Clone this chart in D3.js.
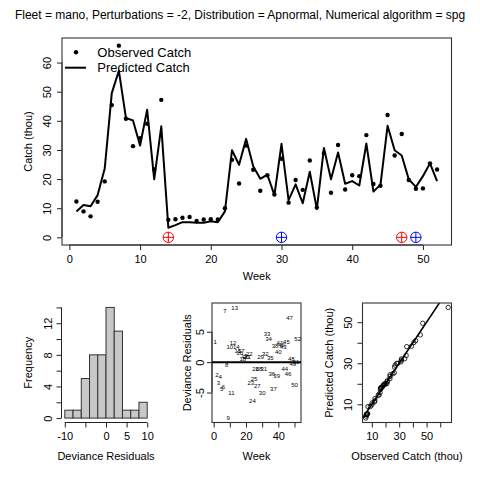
<!DOCTYPE html>
<html>
<head>
<meta charset="utf-8">
<script src="https://cdn.jsdelivr.net/npm/d3@7"></script>
<style>
  body { margin: 0; background: #fff; }
  text { font-family: "Liberation Sans", Arial, Helvetica, sans-serif; fill: #000; }
</style>
</head>
<body>
<svg width="480" height="480"></svg>
<script>
// weeks of the season
const weeks = [1,2,3,4,5,6,7,8,9,10,11,12,13,14,15,16,17,18,19,20,21,22,23,24,25,26,
               27,28,29,30,31,32,33,34,35,36,37,38,39,40,41,42,43,44,45,46,47,48,49,50,51,52];

// observed catch (thou), read from the points
const observed = [12.3,8.9,7.2,12.2,19.2,45.4,65.8,40.7,31.3,34.0,39.0,23.3,47.2,6.0,6.2,6.7,7.0,5.6,6.1,6.2,6.1,10.0,
                  26.6,18.5,31.5,23.2,16.0,21.3,14.7,27.0,11.9,19.7,16.3,26.4,10.2,28.9,15.3,31.7,16.4,21.3,21.0,35.1,
                  18.3,17.7,42.0,28.1,35.5,19.7,16.7,16.8,25.4,23.3];

// predicted catch (thou)
const predicted = [8.9,11.1,10.7,14.5,23.6,49.5,57.2,41.0,40.1,31.5,43.8,19.9,38.1,3.3,4.2,5.2,5.2,5.0,5.0,5.5,5.2,8.9,
                   29.9,24.9,33.8,24.4,20.1,21.5,14.5,32.1,12.8,18.2,11.7,22.5,9.7,30.7,19.9,29.1,18.4,19.3,17.8,32.2,
                   15.7,18.1,38.3,29.9,28.1,19.9,17.3,21.0,25.4,19.3];

// deviance residuals
const residuals = [3.3,-2.1,-3.4,-2.5,-4.4,-4.1,8.5,-0.4,-9.2,2.5,-5.0,3.2,9.0,2.5,1.9,1.6,1.9,0.6,1.0,0.8,0.9,1.4,
                   -3.4,-6.4,-2.7,-1.1,-3.9,-1.1,0.9,-5.0,-1.1,1.4,4.6,3.8,0.7,-1.9,-4.4,2.6,-2.2,1.7,3.2,2.9,
                   2.5,-1.1,3.4,-1.9,7.3,0.6,-0.3,-3.7,0.1,3.9];

// perturbation markers on the time axis
const redWeeks = [14, 47];
const blueWeeks = [30, 49];

const histBreaks = [-10,-8,-6,-4,-2,0,2,4,6,8,10];

const title = "Fleet = mano, Perturbations = -2, Distribution = Apnormal, Numerical algorithm = spg";

const svg = d3.select("svg");
svg.append("rect").attr("width", 480).attr("height", 480).attr("fill", "#fff");

// R style 4% axis extension
function rExt(lo, hi) {
    const d = (hi - lo) * 0.04;
    return [lo - d, hi + d];
}

// draw an R-like axis: ticks, line between first and last tick, selected labels
function rAxis(g, scale, side, ticks, labels, off) {
    const ax = (side === "bottom" ? d3.axisBottom(scale) : d3.axisLeft(scale))
        .tickValues(ticks)
        .tickSize(5)
        .tickFormat(d => labels.includes(d) ? String(d).replace("-", "\u2212").replace("\u2212", "-") : "");
    g.call(ax);
    g.select(".domain").remove();
    g.selectAll(".tick line").attr("stroke", "#222");
    const a = scale(ticks[0]), b = scale(ticks[ticks.length - 1]);
    if (side === "bottom") {
        g.append("line").attr("x1", a).attr("x2", b).attr("stroke", "#222");
        g.selectAll(".tick text").attr("y", off).attr("dy", "0.35em")
            .style("font-size", "11px").attr("fill", "#000");
    } else {
        g.append("line").attr("y1", a).attr("y2", b).attr("stroke", "#222");
        g.selectAll(".tick text").attr("x", null).attr("dy", "0.35em")
            .attr("transform", `translate(${-off},0) rotate(-90)`)
            .attr("text-anchor", "middle")
            .style("font-size", "11px").attr("fill", "#000");
    }
    g.attr("font-family", null).attr("font-size", null);
}

function box(x0, x1, y0, y1) {
    svg.append("rect").attr("x", x0).attr("y", y0)
        .attr("width", x1 - x0).attr("height", y1 - y0)
        .attr("fill", "none").attr("stroke", "#333").attr("stroke-width", 1.1);
}

function xTitle(txt, cx, y) {
    svg.append("text").attr("x", cx).attr("y", y).attr("text-anchor", "middle")
        .style("font-size", "11px").text(txt);
}
function yTitle(txt, x, cy) {
    svg.append("text").attr("transform", `translate(${x},${cy}) rotate(-90)`)
        .attr("text-anchor", "middle").attr("dy", "0.35em")
        .style("font-size", "11px").text(txt);
}

// ---------- title ----------
svg.append("text").attr("x", 240).attr("y", 19).attr("text-anchor", "middle")
    .style("font-size", "12px").text(title);

// ---------- top panel: catch time series ----------
const T = { l: 62, r: 451.5, t: 38, b: 245 };
const xT = d3.scaleLinear().domain(rExt(d3.min(weeks), d3.max(weeks))).range([T.l, T.r]);
const yT = d3.scaleLinear().domain(rExt(0, d3.max(observed.concat(predicted)))).range([T.b, T.t]);

rAxis(svg.append("g").attr("transform", `translate(0,${T.b})`), xT, "bottom",
      [0,10,20,30,40,50], [0,10,20,30,40,50], 14);
rAxis(svg.append("g").attr("transform", `translate(${T.l},0)`), yT, "left",
      [0,10,20,30,40,50,60], [0,10,20,30,40,50,60], 15.3);
box(T.l, T.r, T.t, T.b);
xTitle("Week", (T.l + T.r) / 2, 280);
yTitle("Catch (thou)", 28, (T.t + T.b) / 2);

const line = d3.line().x((d, i) => xT(weeks[i])).y(d => yT(d));
svg.append("path").datum(predicted).attr("d", line)
    .attr("fill", "none").attr("stroke", "#000").attr("stroke-width", 2)
    .attr("stroke-linejoin", "round");

svg.append("g").selectAll("circle").data(observed).join("circle")
    .attr("cx", (d, i) => xT(weeks[i])).attr("cy", d => yT(d))
    .attr("r", 2.2).attr("fill", "#000");

function crossCircle(wk, col) {
    const g = svg.append("g").selectAll("g").data(wk).join("g")
        .attr("transform", d => `translate(${xT(d)},${yT(0)})`);
    const r = 5.2;
    g.append("circle").attr("r", r).attr("fill", "none").attr("stroke", col).attr("stroke-width", 1);
    g.append("line").attr("x1", -r).attr("x2", r).attr("stroke", col).attr("stroke-width", 1);
    g.append("line").attr("y1", -r).attr("y2", r).attr("stroke", col).attr("stroke-width", 1);
}
crossCircle(redWeeks, "#ff0000");
crossCircle(blueWeeks, "#0000ff");

// legend
svg.append("circle").attr("cx", 76).attr("cy", 52.3).attr("r", 2.2).attr("fill", "#000");
svg.append("line").attr("x1", 65).attr("x2", 86).attr("y1", 67.7).attr("y2", 67.7)
    .attr("stroke", "#000").attr("stroke-width", 2);
svg.append("text").attr("x", 97.3).attr("y", 57).style("font-size", "13px").text("Observed Catch");
svg.append("text").attr("x", 97.3).attr("y", 72).style("font-size", "13px").text("Predicted Catch");

// ---------- bottom panels ----------
const B = { t: 303, b: 422.5 };

// histogram of deviance residuals
const H = { l: 61.5, r: 150.5 };
const bins = d3.bin().domain([-10, 10]).thresholds(histBreaks.slice(1, -1))(residuals);
const xH = d3.scaleLinear().domain(rExt(-10, 10)).range([H.l, H.r]);
const yH = d3.scaleLinear().domain(rExt(0, 14)).range([B.b, B.t]);
svg.append("g").selectAll("rect").data(bins).join("rect")
    .attr("x", d => xH(d.x0)).attr("width", d => xH(d.x1) - xH(d.x0))
    .attr("y", d => yH(d.length)).attr("height", d => yH(0) - yH(d.length))
    .attr("fill", "#c8c8c8").attr("stroke", "#333").attr("stroke-width", 1);
rAxis(svg.append("g").attr("transform", `translate(0,${B.b})`), xH, "bottom",
      [-10,-5,0,5,10], [-10,0,5,10], 14);
rAxis(svg.append("g").attr("transform", `translate(${H.l},0)`), yH, "left",
      [0,2,4,6,8,10,12,14], [0,4,8,12], 13);
xTitle("Deviance Residuals", (H.l + H.r) / 2, 459.5);
yTitle("Frequency", 28.3, (B.t + B.b) / 2);

// residuals by week, drawn as week numbers
const R = { l: 212, r: 301 };
const xR = d3.scaleLinear().domain(rExt(d3.min(weeks), d3.max(weeks))).range([R.l, R.r]);
const yR = d3.scaleLinear().domain(rExt(d3.min(residuals), d3.max(residuals))).range([B.b, B.t]);
rAxis(svg.append("g").attr("transform", `translate(0,${B.b})`), xR, "bottom",
      [0,10,20,30,40,50], [0,20,40], 14);
rAxis(svg.append("g").attr("transform", `translate(${R.l},0)`), yR, "left",
      [-5,0,5], [-5,0,5], 12);
box(R.l, R.r, B.t, B.b);
svg.append("line").attr("x1", R.l).attr("x2", R.r).attr("y1", yR(0)).attr("y2", yR(0))
    .attr("stroke", "#000").attr("stroke-width", 2);
svg.append("g").selectAll("text").data(residuals).join("text")
    .attr("x", (d, i) => xR(weeks[i])).attr("y", d => yR(d))
    .attr("dy", "0.35em").attr("text-anchor", "middle")
    .style("font-size", "6px").attr("fill", "#333")
    .text((d, i) => weeks[i]);
xTitle("Week", (R.l + R.r) / 2, 459.5);
yTitle("Deviance Residuals", 186.7, (B.t + B.b) / 2);

// quantile plot: sorted observed vs sorted predicted
const Q = { l: 362.5, r: 451.5 };
const obsSorted = observed.slice().sort(d3.ascending);
const predSorted = predicted.slice().sort(d3.ascending);
const xQ = d3.scaleLinear().domain(rExt(d3.min(observed), d3.max(observed))).range([Q.l, Q.r]);
const yQ = d3.scaleLinear().domain(rExt(d3.min(predicted), d3.max(predicted))).range([B.b, B.t]);
rAxis(svg.append("g").attr("transform", `translate(0,${B.b})`), xQ, "bottom",
      [10,20,30,40,50,60], [10,30,50], 14);
rAxis(svg.append("g").attr("transform", `translate(${Q.l},0)`), yQ, "left",
      [10,20,30,40,50], [10,30,50], 14);
svg.append("defs").append("clipPath").attr("id", "qclip")
    .append("rect").attr("x", Q.l).attr("y", B.t).attr("width", Q.r - Q.l).attr("height", B.b - B.t);
const lo = Math.min(xQ.domain()[0], yQ.domain()[0]), hi = Math.max(xQ.domain()[1], yQ.domain()[1]);
svg.append("line").attr("clip-path", "url(#qclip)")
    .attr("x1", xQ(lo)).attr("y1", yQ(lo)).attr("x2", xQ(hi)).attr("y2", yQ(hi))
    .attr("stroke", "#000").attr("stroke-width", 1.6);
svg.append("g").selectAll("circle").data(obsSorted).join("circle")
    .attr("cx", d => xQ(d)).attr("cy", (d, i) => yQ(predSorted[i]))
    .attr("r", 2.2).attr("fill", "none").attr("stroke", "#000").attr("stroke-width", 0.8);
box(Q.l, Q.r, B.t, B.b);
xTitle("Observed Catch (thou)", (Q.l + Q.r) / 2, 459.5);
yTitle("Predicted Catch (thou)", 329, (B.t + B.b) / 2);
</script>
</body>
</html>
